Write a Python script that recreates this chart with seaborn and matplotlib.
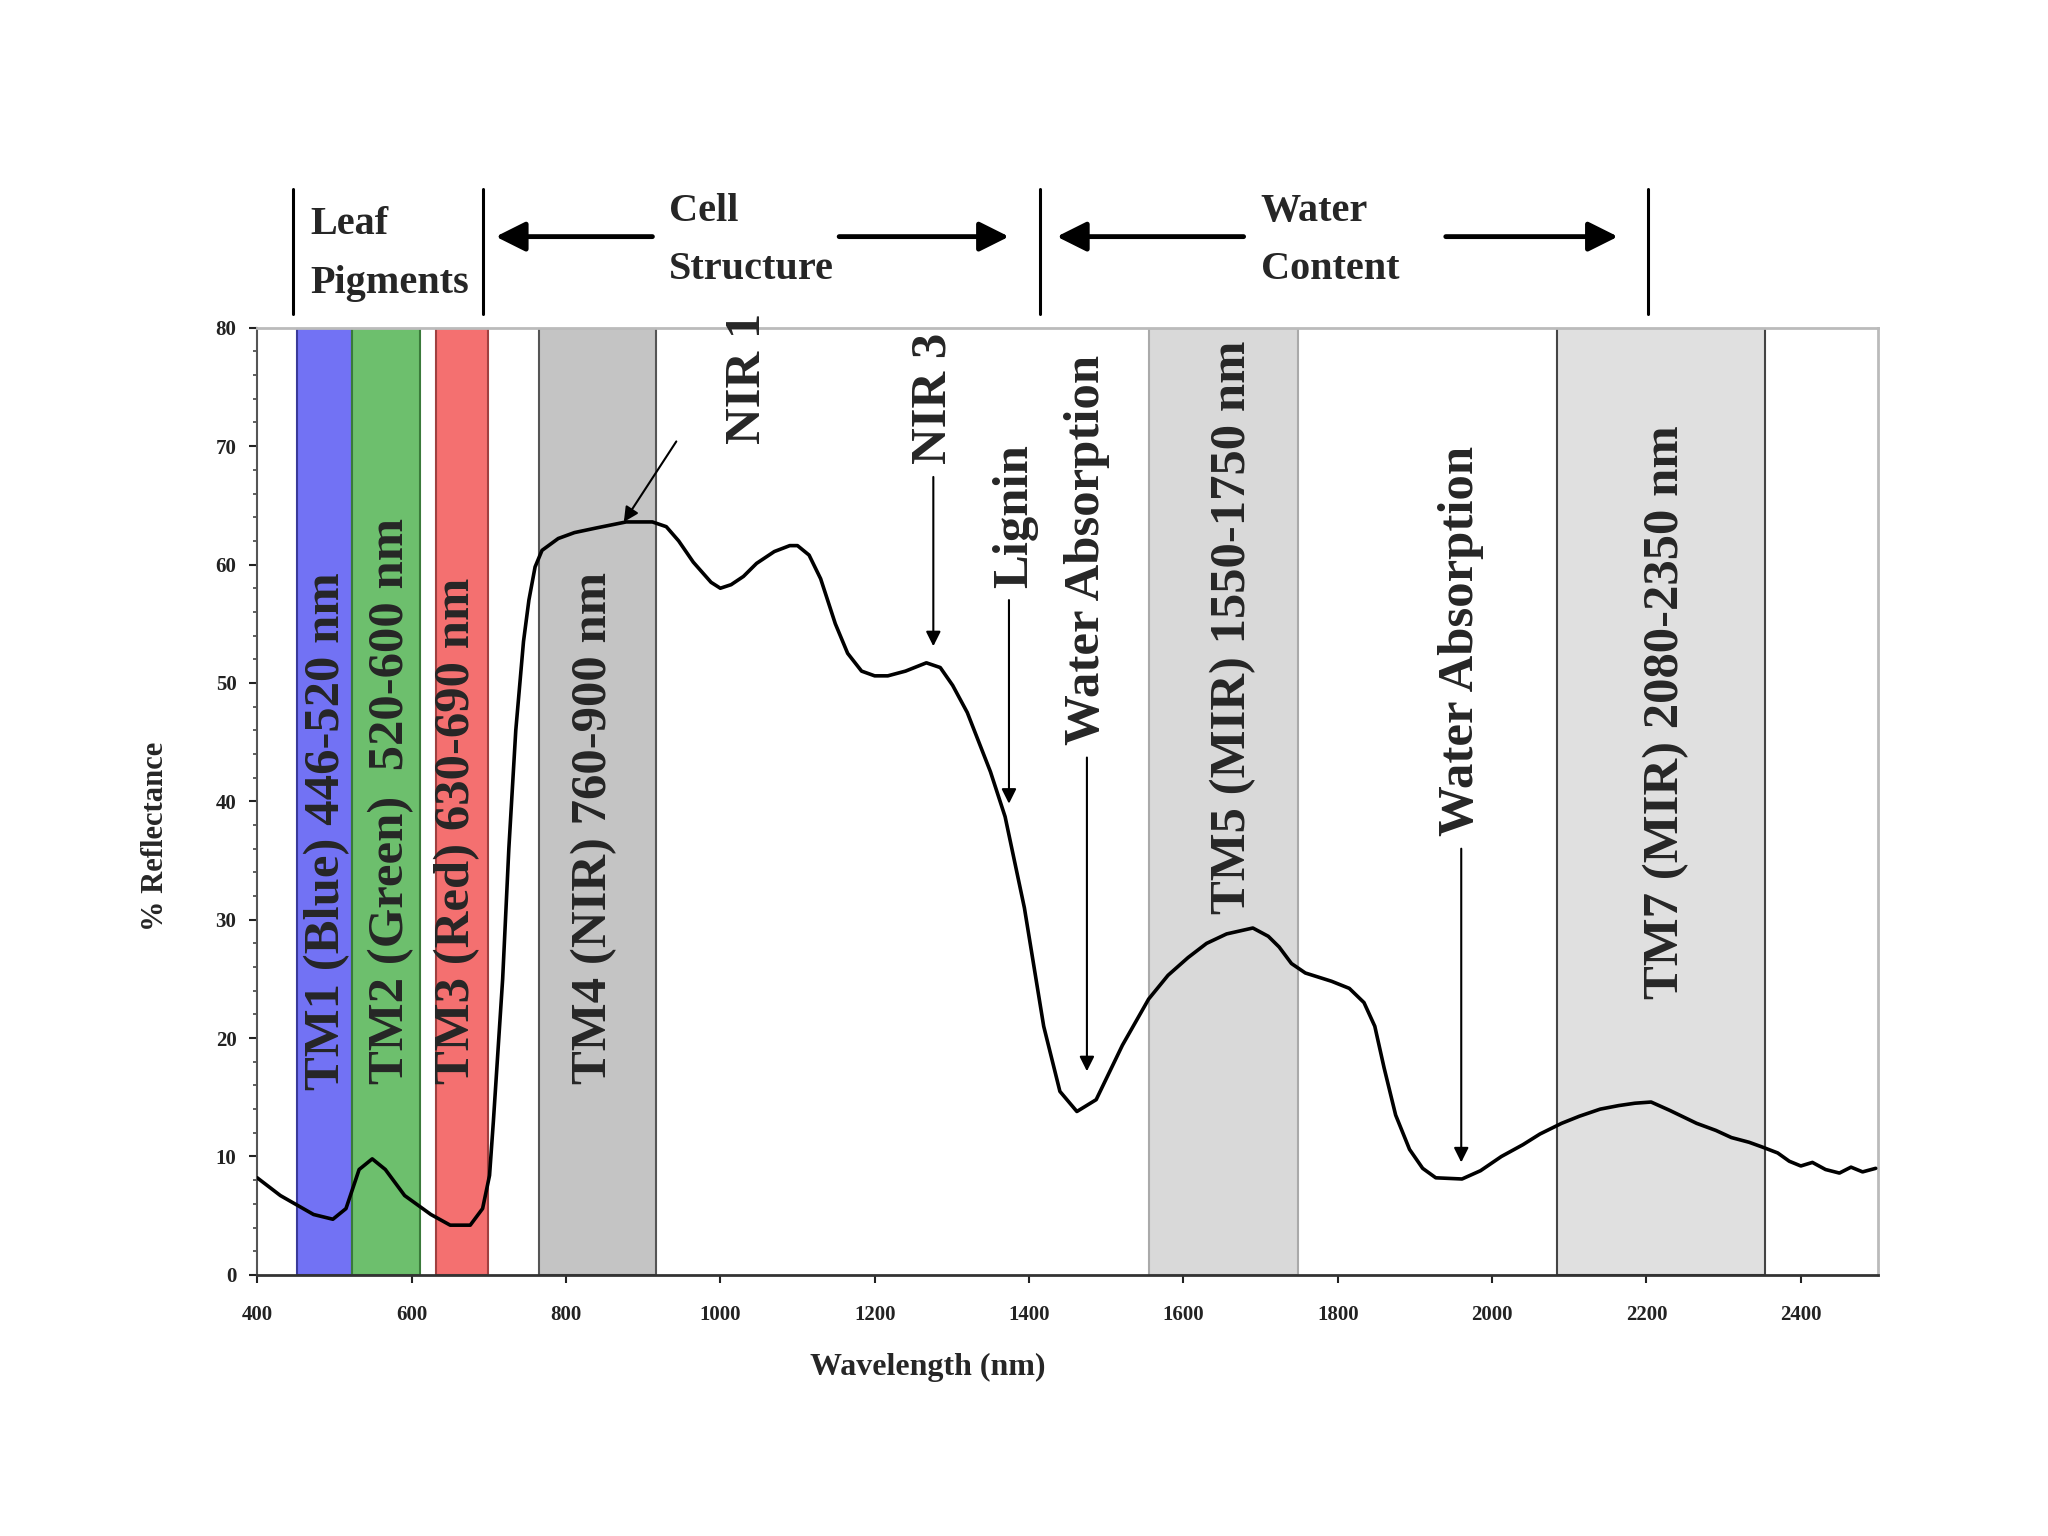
import numpy as np
import pandas as pd
import seaborn as sns
import matplotlib
matplotlib.use("Agg")
from matplotlib import pyplot as plt
from matplotlib.ticker import MultipleLocator

# reflectance curve of a green leaf
wavelength = [400, 430, 473, 498, 515, 532, 549, 566, 591, 625, 650, 676, 692, 701,
              706, 712, 718, 726, 735, 745, 752, 760, 769, 790, 811, 840, 878, 912,
              930, 946, 965, 988, 1000, 1014, 1030, 1047, 1070, 1090, 1100, 1115, 1130,
              1149, 1165, 1183, 1200, 1217, 1240, 1267, 1285, 1301, 1320, 1335, 1350,
              1369, 1394, 1419, 1440, 1462, 1487, 1521, 1555, 1580, 1606, 1630, 1656,
              1690, 1710, 1724, 1740, 1758, 1792, 1815, 1834, 1848, 1860, 1875, 1893,
              1910, 1927, 1961, 1985, 2012, 2040, 2062, 2090, 2113, 2140, 2164, 2185,
              2206, 2230, 2265, 2290, 2310, 2333, 2350, 2370, 2385, 2400, 2415, 2432,
              2450, 2465, 2480, 2497]
reflectance = [8.2, 6.7, 5.1, 4.7, 5.6, 8.9, 9.8, 8.9, 6.7, 5.1, 4.2, 4.2, 5.6, 8.4,
               13.0, 19.0, 25.0, 36.0, 46.0, 53.5, 57.0, 59.8, 61.2, 62.2, 62.7, 63.1, 63.6, 63.6,
               63.2, 62.0, 60.2, 58.5, 58.0, 58.3, 59.0, 60.1, 61.1, 61.6, 61.6, 60.8, 58.8,
               55.0, 52.5, 51.0, 50.6, 50.6, 51.0, 51.7, 51.3, 49.8, 47.5, 45.0, 42.5,
               38.7, 31.0, 21.0, 15.5, 13.8, 14.8, 19.4, 23.3, 25.3, 26.8, 28.0, 28.8,
               29.3, 28.6, 27.7, 26.3, 25.5, 24.8, 24.2, 23.0, 21.0, 17.5, 13.5, 10.6,
               9.0, 8.2, 8.1, 8.8, 10.0, 11.0, 11.9, 12.8, 13.4, 14.0, 14.3, 14.5,
               14.6, 13.9, 12.8, 12.2, 11.6, 11.2, 10.8, 10.3, 9.6, 9.2, 9.5, 8.9,
               8.6, 9.1, 8.7, 9.0]

# Landsat TM bands drawn as shaded strips
band_start = [452, 523, 632, 765, 1555, 2084]
band_end = [523, 611, 699, 917, 1749, 2353]
band_color = ['#7272f4', '#6dbf6d', '#f47070', '#c4c4c4', '#d9d9d9', '#e0e0e0']
band_edge = ['#3a3a9a', '#3a7a3a', '#a04040', '#555555', '#aaaaaa', '#444444']
band_label = ['TM1 (Blue) 446-520 nm', 'TM2 (Green)  520-600 nm', 'TM3 (Red) 630-690 nm',
              'TM4 (NIR) 760-900 nm', 'TM5 (MIR) 1550-1750 nm', 'TM7 (MIR) 2080-2350 nm']
band_label_x = [490, 574, 659, 836, 1665, 2226]
band_label_y = [15.6, 16.1, 16.1, 16.1, 30.5, 23.3]

# feature callouts: label, text x, text bottom, arrow start, arrow tip
feat_label = ['NIR 1', 'NIR 3', 'Lignin', 'Water Absorption', 'Water Absorption']
feat_x = [1036, 1276, 1382, 1475, 1960]
feat_y = [70.2, 68.5, 58.0, 44.8, 37.1]
feat_from = [(943, 70.4), (1276, 67.4), (1374, 57.0), (1475, 43.7), (1960, 36.0)]
feat_to = [(875, 63.6), (1276, 53.1), (1374, 39.8), (1475, 17.2), (1960, 9.5)]

# regions above the plot
divider_x = [446, 692, 1414, 2202]
head_arrows = [(912, 709), (1154, 1374), (1678, 1436), (1940, 2163)]
head_text = [(469, 88.7, 'Leaf'), (469, 83.7, 'Pigments'),
             (934, 89.8, 'Cell'), (934, 84.9, 'Structure'),
             (1700, 89.8, 'Water'), (1700, 84.9, 'Content')]

df = pd.DataFrame({'Wavelength (nm)': wavelength, '% Reflectance': reflectance})

sns.set_style("white")
plt.rcParams['font.family'] = ['Liberation Serif', 'DejaVu Serif']
plt.rcParams['font.weight'] = 'bold'

fig = plt.figure(figsize=(20.48, 15.36), dpi=100)
ax = fig.add_axes([0.1256, 0.170, 0.7914, 0.6166])

for s, e, c, ec in zip(band_start, band_end, band_color, band_edge):
    ax.axvspan(s, e, facecolor=c, edgecolor=ec, lw=1.5, zorder=1)

sns.lineplot(data=df, x='Wavelength (nm)', y='% Reflectance', ax=ax,
             color='black', lw=2.6, zorder=3)

for lab, x, y in zip(band_label, band_label_x, band_label_y):
    ax.text(x, y, lab, rotation=90, ha='center', va='bottom', fontsize=36.5,
            fontweight='bold', zorder=4)

for lab, x, y, a, b in zip(feat_label, feat_x, feat_y, feat_from, feat_to):
    ax.text(x, y, lab, rotation=90, ha='center', va='bottom', fontsize=36.5,
            fontweight='bold', zorder=4, clip_on=False)
    ax.annotate('', xy=b, xytext=a,
                arrowprops=dict(arrowstyle='-|>', lw=1.5, color='black',
                                mutation_scale=22, shrinkA=0, shrinkB=0), zorder=4)

# header: dividers, arrows and region names
for x in divider_x:
    ax.plot([x, x], [81.2, 91.7], color='black', lw=2.2, clip_on=False)

for a, b in head_arrows:
    ax.annotate('', xy=(b, 87.7), xytext=(a, 87.7), annotation_clip=False,
                arrowprops=dict(arrowstyle='-|>', lw=3.5, color='black',
                                mutation_scale=45, shrinkA=0, shrinkB=0))

for x, y, t in head_text:
    ax.text(x, y, t, ha='left', va='center', fontsize=29, fontweight='bold')

ax.set_xlim(400, 2500)
ax.set_ylim(0, 80)
ax.set_xticks(range(400, 2401, 200))
ax.yaxis.set_major_locator(MultipleLocator(10))
ax.yaxis.set_minor_locator(MultipleLocator(2))
ax.tick_params(axis='both', which='major', direction='out', length=6, width=1.5,
               labelsize=15, colors='#222222', bottom=True, left=True)
ax.tick_params(axis='x', which='major', pad=16)
ax.tick_params(axis='y', which='major', pad=9)
ax.tick_params(axis='y', which='minor', direction='out', length=3, width=1.2,
               left=True, colors='#444444')
for t in ax.get_xticklabels() + ax.get_yticklabels():
    t.set_fontweight('bold')

ax.set_xlabel('Wavelength (nm)', fontsize=23, fontweight='bold')
ax.xaxis.set_label_coords(0.414, -0.082)
ax.set_ylabel('% Reflectance', fontsize=22, fontweight='bold')
ax.yaxis.set_label_coords(-0.054, 0.463)

ax.spines['bottom'].set_color('#333333')
ax.spines['bottom'].set_linewidth(2)
ax.spines['left'].set_color('#555555')
ax.spines['left'].set_linewidth(1.5)
for side in ['top', 'right']:
    ax.spines[side].set_color('#bbbbbb')
    ax.spines[side].set_linewidth(2)

fig.savefig('out.png', dpi=100, facecolor='white')
